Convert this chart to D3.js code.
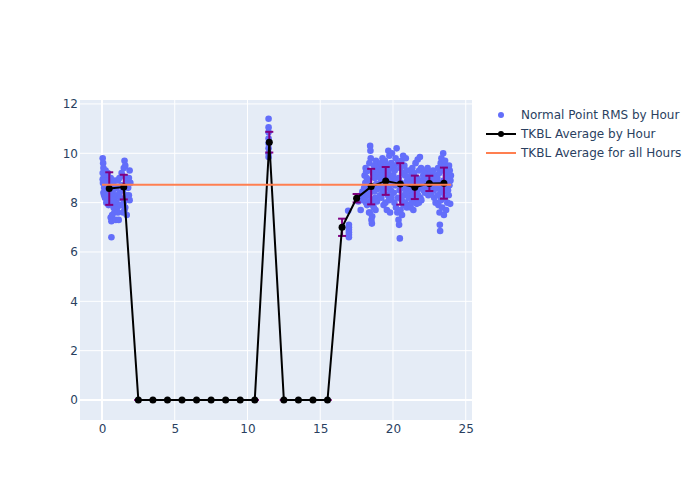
<!DOCTYPE html>
<html>
<head>
<meta charset="utf-8">
<script src="https://cdn.jsdelivr.net/npm/d3@7"></script>
<style>
  body { margin: 0; background: #fff; }
  text { font-family: "DejaVu Sans", verdana, arial, sans-serif; }
</style>
</head>
<body>
<svg width="700" height="500"></svg>
<script>
// blauwe punten: tijd (uur, met fractie) en RMS
var rmsPoints = [
  [0.05,9.8],[0.08,9.6],[0.1,9.4],[0.05,9.2],[0.12,9.0],[0.07,8.8],[0.15,8.6],[0.1,8.4],[0.2,8.2],[0.05,8.95],
  [0.18,9.1],[0.25,8.7],[0.3,8.5],[0.35,8.3],[0.4,8.1],[0.45,7.9],[0.5,8.6],[0.55,8.8],[0.6,9.0],[0.65,8.4],
  [0.7,8.2],[0.75,8.0],[0.8,7.8],[0.85,7.6],[0.9,8.3],[0.6,7.4],[0.65,7.25],[0.7,7.5],[0.4,9.2],[0.5,9.0],
  [0.35,8.9],[0.25,9.3],[0.65,6.6],[0.8,8.7],[0.9,8.9],[0.95,7.3],[0.55,8.2],[0.3,8.0],[0.45,8.4],[0.75,8.5],
  [0.85,8.1],[0.15,8.3],[0.2,8.9],
  [1.0,8.0],[1.05,7.8],[1.1,7.6],[1.15,7.3],[1.0,8.6],[1.1,8.9],[1.2,8.4],[1.25,8.2],[1.3,7.9],[1.35,8.7],
  [1.4,9.1],[1.45,8.5],[1.5,9.4],[1.55,9.7],[1.6,9.5],[1.5,8.0],[1.55,7.7],[1.6,7.8],[1.65,8.3],[1.7,8.9],
  [1.75,9.0],[1.8,8.6],[1.85,8.3],[1.9,8.1],[1.9,9.3],[1.95,8.8],[1.7,7.5],[1.6,8.7],[1.35,9.2],[1.2,9.0],
  [1.45,7.6],[1.75,8.2],[1.85,9.0],
  [11.45,11.4],[11.45,11.05],[11.45,10.85],[11.45,10.6],[11.45,10.4],[11.45,10.2],[11.45,10.0],[11.45,9.85],
  [16.92,7.67],[16.97,7.1],[16.97,7.0],[16.97,6.9],[16.97,6.8],[16.97,6.7],[16.97,6.6],
  [17.62,8.05],[17.78,7.7],[17.82,8.3],[17.86,8.2],[17.9,8.45],[17.94,8.1],[17.97,8.35],
  [18.02,8.6],[18.05,9.1],[18.08,8.2],[18.1,8.8],[18.12,9.4],[18.15,8.0],[18.18,8.5],[18.2,9.0],[18.22,7.9],
  [18.25,8.7],[18.28,9.3],[18.3,8.3],[18.33,8.9],[18.36,7.6],[18.38,9.6],[18.4,8.4],[18.43,10.3],[18.45,10.1],
  [18.47,9.8],[18.5,8.1],[18.52,7.3],[18.55,7.15],[18.57,7.45],[18.6,8.6],[18.62,9.2],[18.65,8.0],[18.68,7.8],
  [18.7,9.5],[18.72,8.45],[18.75,9.0],[18.78,8.2],[18.8,7.7],[18.83,9.7],[18.85,8.75],[18.88,9.35],[18.9,8.05],
  [18.93,9.55],[18.95,8.55],[18.98,9.1],[18.4,7.6],[18.6,7.9],[18.15,9.25],
  [19.02,9.2],[19.05,8.6],[19.08,9.5],[19.1,8.3],[19.12,9.0],[19.15,8.8],[19.18,9.6],[19.2,8.2],[19.22,9.3],
  [19.25,8.7],[19.28,9.8],[19.3,8.5],[19.33,9.1],[19.35,7.9],[19.38,9.4],[19.4,8.9],[19.43,8.4],[19.45,9.7],
  [19.48,8.0],[19.5,9.2],[19.53,8.6],[19.55,9.0],[19.58,7.7],[19.6,9.5],[19.63,8.8],[19.65,8.3],[19.68,10.1],
  [19.7,9.3],[19.73,8.1],[19.75,9.9],[19.78,8.7],[19.8,7.6],[19.83,9.1],[19.85,8.5],[19.88,9.6],[19.9,8.2],
  [19.93,10.0],[19.95,8.9],[19.98,9.4],
  [20.02,9.1],[20.05,8.4],[20.08,9.5],[20.1,8.0],[20.12,9.3],[20.15,8.7],[20.18,9.8],[20.2,7.8],[20.25,10.2],
  [20.28,8.9],[20.3,7.6],[20.33,9.6],[20.35,8.2],[20.38,7.3],[20.4,9.0],[20.42,7.1],[20.45,8.5],[20.47,6.55],
  [20.5,9.4],[20.52,7.7],[20.55,8.8],[20.58,9.7],[20.6,8.1],[20.62,7.5],[20.65,9.2],[20.68,8.6],[20.7,9.9],
  [20.72,7.9],[20.75,8.3],[20.78,9.5],[20.8,8.7],[20.83,9.1],[20.85,8.0],[20.88,9.8],[20.9,8.4],[20.93,9.3],
  [20.95,7.8],[20.98,8.9],
  [21.02,8.6],[21.05,9.0],[21.08,8.2],[21.1,8.8],[21.12,7.9],[21.15,9.3],[21.18,8.4],[21.2,8.7],[21.22,7.8],
  [21.25,9.1],[21.28,8.5],[21.3,8.0],[21.33,9.4],[21.35,8.3],[21.38,8.9],[21.4,7.7],[21.43,8.6],[21.45,9.2],
  [21.48,8.1],[21.5,8.8],[21.53,8.4],[21.55,9.6],[21.58,8.2],[21.6,8.7],[21.63,7.95],[21.65,9.0],[21.68,8.5],
  [21.7,9.75],[21.73,8.3],[21.75,8.9],[21.78,8.0],[21.8,9.3],[21.83,8.6],[21.85,9.85],[21.88,8.2],[21.9,8.75],
  [21.93,9.4],[21.95,8.1],[21.98,8.9],
  [22.02,8.9],[22.05,8.6],[22.08,9.1],[22.1,8.5],[22.12,8.8],[22.15,9.3],[22.18,8.7],[22.2,8.4],[22.23,9.0],
  [22.25,8.8],[22.28,8.6],[22.3,9.2],[22.33,8.9],[22.35,8.5],[22.38,9.4],[22.4,8.7],[22.43,8.3],[22.45,9.0],
  [22.48,8.8],[22.5,8.6],[22.53,9.1],[22.55,8.9],[22.58,8.5],[22.6,9.2],[22.63,8.7],[22.65,8.4],[22.68,9.0],
  [22.7,8.8],[22.73,8.6],[22.75,9.3],[22.78,8.9],[22.8,8.5],[22.83,8.2],[22.85,8.8],[22.88,9.0],[22.9,8.7],
  [22.93,8.0],[22.95,9.1],
  [23.02,8.6],[23.05,9.0],[23.08,8.3],[23.1,9.4],[23.12,7.9],[23.15,8.8],[23.18,9.2],[23.2,7.6],[23.22,7.1],
  [23.24,6.85],[23.25,8.5],[23.28,9.6],[23.3,8.1],[23.33,9.8],[23.35,8.7],[23.38,7.8],[23.4,9.3],[23.43,8.4],
  [23.45,10.0],[23.48,8.9],[23.5,7.5],[23.53,9.5],[23.55,8.2],[23.58,9.7],[23.6,8.6],[23.63,9.1],[23.65,7.7],
  [23.68,9.4],[23.7,8.8],[23.73,8.0],[23.75,9.2],[23.78,8.5],[23.8,9.0],[23.83,8.3],[23.85,9.5],[23.88,8.7],
  [23.9,9.3],[23.93,7.95],[23.95,8.9],[23.98,9.1]
];

// gemiddelde per uur (midden van het uur) en spreiding
var hours = [0.5,1.5,2.5,3.5,4.5,5.5,6.5,7.5,8.5,9.5,10.5,11.5,12.5,13.5,14.5,15.5,16.5,17.5,18.5,19.5,20.5,21.5,22.5,23.5];
var hourAvg = [8.57,8.63,0,0,0,0,0,0,0,0,0,10.45,0,0,0,0,7.0,8.18,8.65,8.88,8.76,8.62,8.78,8.79];
var hourErr = [0.66,0.5,0,0,0,0,0,0,0,0,0,0.42,0,0,0,0,0.35,0.17,0.72,0.565,0.84,0.475,0.31,0.63];

var overallAvg = 8.73;
var overallSpan = [0, 24];

var xTicks = [0, 5, 10, 15, 20, 25];
var yTicks = [0, 2, 4, 6, 8, 10, 12];

var legendLabels = ["Normal Point RMS by Hour", "TKBL Average by Hour", "TKBL Average for all Hours"];

var svg = d3.select("svg"),
    margin = {top: 100, right: 228, bottom: 80, left: 80},
    width = +svg.attr("width") - margin.left - margin.right,
    height = +svg.attr("height") - margin.top - margin.bottom;

var x = d3.scaleLinear().domain([-1.51, 25.43]).range([0, width]),
    y = d3.scaleLinear().domain([-0.81, 12.16]).range([height, 0]);

var g = svg.append("g")
    .attr("transform", "translate(" + margin.left + "," + margin.top + ")");

g.append("rect")
    .attr("width", width)
    .attr("height", height)
    .attr("fill", "#e5ecf6");

// rasterlijnen
g.selectAll(".gx").data(xTicks).enter().append("line")
    .attr("x1", function(d) { return x(d); })
    .attr("x2", function(d) { return x(d); })
    .attr("y1", 0).attr("y2", height)
    .attr("stroke", "#fff")
    .attr("stroke-width", function(d) { return d === 0 ? 2 : 1; });

g.selectAll(".gy").data(yTicks).enter().append("line")
    .attr("y1", function(d) { return y(d); })
    .attr("y2", function(d) { return y(d); })
    .attr("x1", 0).attr("x2", width)
    .attr("stroke", "#fff")
    .attr("stroke-width", function(d) { return d === 0 ? 2 : 1; });

// assen (alleen labels)
var xAxis = g.append("g")
    .attr("transform", "translate(0," + height + ")")
    .call(d3.axisBottom(x).tickValues(xTicks).tickSize(0).tickPadding(4));
var yAxis = g.append("g")
    .call(d3.axisLeft(y).tickValues(yTicks).tickSize(0).tickPadding(2));
[xAxis, yAxis].forEach(function(a) {
    a.select(".domain").remove();
    a.selectAll("text")
        .attr("fill", "#2a3f5f")
        .style("font-size", "12px")
        .style("font-family", "'DejaVu Sans', verdana, arial, sans-serif");
});

// punten
g.append("g").selectAll("circle")
    .data(rmsPoints)
    .enter().append("circle")
    .attr("cx", function(d) { return x(d[0]); })
    .attr("cy", function(d) { return y(d[1]); })
    .attr("r", 3.3)
    .attr("fill", "#636efa");

var hourData = hours.map(function(h, i) {
    return {h: h, v: hourAvg[i], e: hourErr[i]};
});

// foutbalken
var eb = g.append("g").selectAll("g")
    .data(hourData)
    .enter().append("g")
    .attr("stroke", "purple")
    .attr("stroke-width", 2);
eb.append("line")
    .attr("x1", function(d) { return x(d.h); })
    .attr("x2", function(d) { return x(d.h); })
    .attr("y1", function(d) { return y(d.v - d.e); })
    .attr("y2", function(d) { return y(d.v + d.e); });
[-1, 1].forEach(function(s) {
    eb.append("line")
        .attr("x1", function(d) { return x(d.h) - 4; })
        .attr("x2", function(d) { return x(d.h) + 4; })
        .attr("y1", function(d) { return y(d.v + s * d.e); })
        .attr("y2", function(d) { return y(d.v + s * d.e); });
});

var line = d3.line()
    .x(function(d) { return x(d.h); })
    .y(function(d) { return y(d.v); });

g.append("path")
    .datum(hourData)
    .attr("d", line)
    .attr("fill", "none")
    .attr("stroke", "#000")
    .attr("stroke-width", 2);

g.append("g").selectAll("circle")
    .data(hourData)
    .enter().append("circle")
    .attr("cx", function(d) { return x(d.h); })
    .attr("cy", function(d) { return y(d.v); })
    .attr("r", 3.5)
    .attr("fill", "#000");

// gemiddelde over alle uren
g.append("line")
    .attr("x1", x(overallSpan[0]))
    .attr("x2", x(overallSpan[1]))
    .attr("y1", y(overallAvg))
    .attr("y2", y(overallAvg))
    .attr("stroke", "coral")
    .attr("stroke-width", 2);

// legenda
var legend = svg.append("g").attr("transform", "translate(486,115)");
var rows = legend.selectAll("g").data(legendLabels).enter().append("g")
    .attr("transform", function(d, i) { return "translate(0," + (i * 19) + ")"; });
rows.append("text")
    .attr("x", 35)
    .attr("dy", "0.35em")
    .attr("fill", "#2a3f5f")
    .style("font-size", "12px")
    .text(function(d) { return d; });

rows.filter(function(d, i) { return i === 0; }).append("circle")
    .attr("cx", 15).attr("r", 3).attr("fill", "#636efa");
var r1 = rows.filter(function(d, i) { return i === 1; });
r1.append("line").attr("x1", 0).attr("x2", 30).attr("stroke", "#000").attr("stroke-width", 2);
r1.append("circle").attr("cx", 15).attr("r", 3).attr("fill", "#000");
rows.filter(function(d, i) { return i === 2; }).append("line")
    .attr("x1", 0).attr("x2", 30).attr("stroke", "coral").attr("stroke-width", 2);
</script>
</body>
</html>
